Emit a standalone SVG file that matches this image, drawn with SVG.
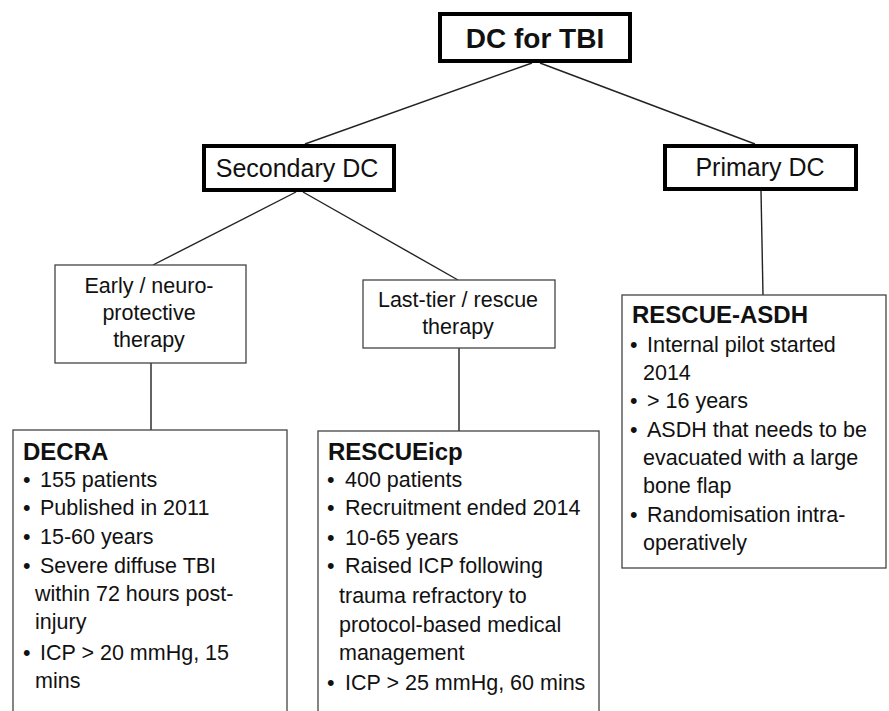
<svg xmlns="http://www.w3.org/2000/svg" width="889" height="711" viewBox="0 0 889 711">
<style>
.thick{fill:#fff;stroke:#000;stroke-width:4}
.thin{fill:#fff;stroke:#444;stroke-width:1.3}
.con line{stroke:#222;stroke-width:1.4}
text{font-family:"Liberation Sans",Arial,sans-serif;fill:#111}
.h1{font-size:28px;font-weight:bold}
.h2{font-size:25px}
.lab{font-size:21.5px}
.title{font-size:24px;font-weight:bold}
.b{font-size:21.5px}
</style>
<rect width="889" height="711" fill="#fff"/>
<g id="connectors" class="con">
<line x1="532" y1="63" x2="305" y2="144"/>
<line x1="540" y1="63" x2="755" y2="144"/>
<line x1="296" y1="192" x2="153" y2="265"/>
<line x1="303" y1="192" x2="458" y2="280"/>
<line x1="761" y1="191" x2="763" y2="295"/>
<line x1="151" y1="363" x2="151" y2="430"/>
<line x1="459" y1="348" x2="459" y2="431"/>
</g>
<g id="dc-for-tbi">
<rect class="thick" x="440" y="14" width="190" height="47"/>
<text class="h1" x="535" y="48" text-anchor="middle">DC for TBI</text>
</g>
<g id="secondary-dc">
<rect class="thick" x="204" y="146" width="190" height="44"/>
<text class="h2" x="297" y="177" text-anchor="middle">Secondary DC</text>
</g>
<g id="primary-dc">
<rect class="thick" x="665" y="146" width="191" height="43"/>
<text class="h2" x="760" y="176" text-anchor="middle">Primary DC</text>
</g>
<g id="early">
<rect class="thin" x="55" y="265" width="191" height="98"/>
<text class="lab" text-anchor="middle"><tspan x="149" y="293">Early / neuro-</tspan><tspan x="149" y="320">protective</tspan><tspan x="149" y="347">therapy</tspan></text>
</g>
<g id="last-tier">
<rect class="thin" x="363" y="280" width="192" height="68"/>
<text class="lab" text-anchor="middle"><tspan x="458" y="307">Last-tier / rescue</tspan><tspan x="458" y="334">therapy</tspan></text>
</g>
<g id="decra">
<rect class="thin" x="13" y="430" width="274" height="300"/>
<text class="title" x="23" y="460">DECRA</text>
<text class="b">
<tspan x="23" y="487">•</tspan><tspan x="40" y="487">155 patients</tspan>
<tspan x="23" y="515">•</tspan><tspan x="40" y="515">Published in 2011</tspan>
<tspan x="23" y="544">•</tspan><tspan x="40" y="544">15-60 years</tspan>
<tspan x="23" y="573">•</tspan><tspan x="40" y="573">Severe diffuse TBI</tspan>
<tspan x="35" y="601">within 72 hours post-</tspan>
<tspan x="35" y="629">injury</tspan>
<tspan x="23" y="660">•</tspan><tspan x="40" y="660">ICP &gt; 20 mmHg, 15</tspan>
<tspan x="35" y="688">mins</tspan>
</text>
</g>
<g id="rescueicp">
<rect class="thin" x="318" y="431" width="281" height="300"/>
<text class="title" x="328" y="460">RESCUEicp</text>
<text class="b">
<tspan x="327" y="487">•</tspan><tspan x="345" y="487">400 patients</tspan>
<tspan x="327" y="515">•</tspan><tspan x="345" y="515">Recruitment ended 2014</tspan>
<tspan x="327" y="545">•</tspan><tspan x="345" y="545">10-65 years</tspan>
<tspan x="327" y="573">•</tspan><tspan x="345" y="573">Raised ICP following</tspan>
<tspan x="339" y="603">trauma refractory to</tspan>
<tspan x="339" y="632">protocol-based medical</tspan>
<tspan x="339" y="660">management</tspan>
<tspan x="327" y="690">•</tspan><tspan x="345" y="690">ICP &gt; 25 mmHg, 60 mins</tspan>
</text>
</g>
<g id="rescue-asdh">
<rect class="thin" x="622" y="295" width="264" height="273"/>
<text class="title" x="632" y="323">RESCUE-ASDH</text>
<text class="b">
<tspan x="630" y="352">•</tspan><tspan x="647" y="352">Internal pilot started</tspan>
<tspan x="643" y="380">2014</tspan>
<tspan x="630" y="408">•</tspan><tspan x="647" y="408">&gt; 16 years</tspan>
<tspan x="630" y="437">•</tspan><tspan x="647" y="437">ASDH that needs to be</tspan>
<tspan x="643" y="465">evacuated with a large</tspan>
<tspan x="643" y="493">bone flap</tspan>
<tspan x="630" y="522">•</tspan><tspan x="647" y="522">Randomisation intra-</tspan>
<tspan x="643" y="550">operatively</tspan>
</text>
</g>
</svg>
